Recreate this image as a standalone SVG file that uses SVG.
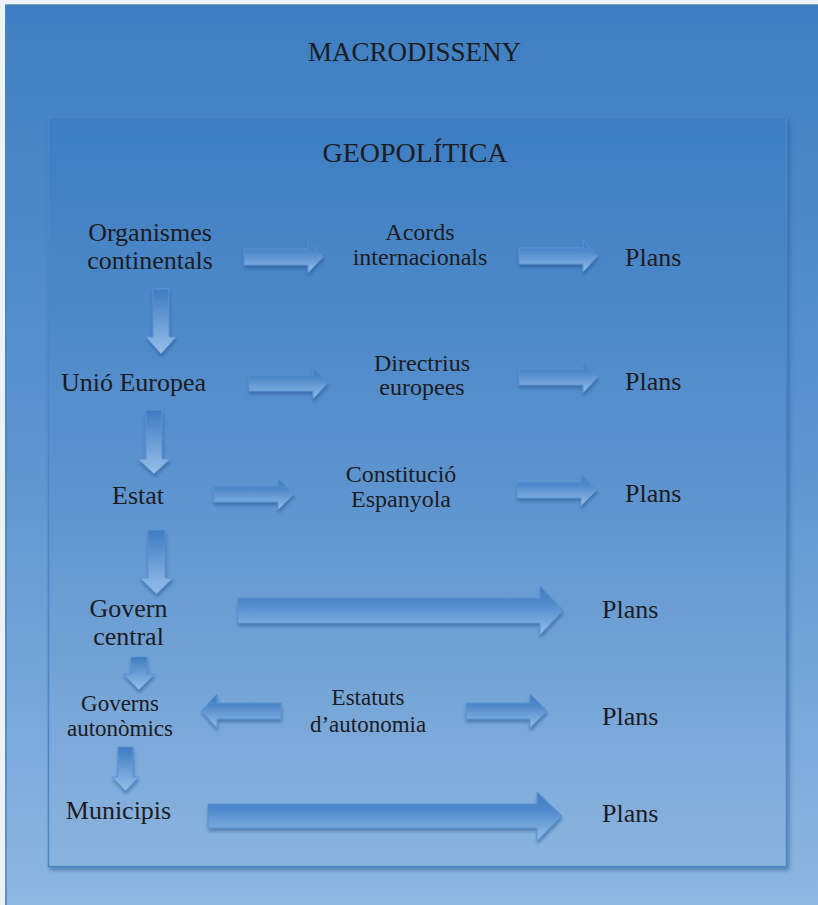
<svg xmlns="http://www.w3.org/2000/svg" width="818" height="905" viewBox="0 0 818 905">
  <defs>
    <linearGradient id="bgOuter" x1="0" y1="0" x2="0" y2="1">
      <stop offset="0" stop-color="#3d7ec2"/>
      <stop offset="0.5" stop-color="#5d95d0"/>
      <stop offset="1" stop-color="#8eb7e2"/>
    </linearGradient>
    <linearGradient id="bgInner" x1="0" y1="0" x2="0" y2="1">
      <stop offset="0" stop-color="#3c7dc2"/>
      <stop offset="0.5" stop-color="#5d94cf"/>
      <stop offset="1" stop-color="#8bb4df"/>
    </linearGradient>
    <linearGradient id="arrH" x1="0" y1="0" x2="0" y2="1">
      <stop offset="0" stop-color="#3f7bc2"/>
      <stop offset="0.35" stop-color="#4f89cb"/>
      <stop offset="1" stop-color="#95bfe9"/>
    </linearGradient>
    <linearGradient id="arrV" x1="0" y1="0" x2="0" y2="1">
      <stop offset="0" stop-color="#3f7bc2"/>
      <stop offset="1" stop-color="#95bfe9"/>
    </linearGradient>
    <filter id="shadow" x="-20%" y="-30%" width="140%" height="170%">
      <feDropShadow dx="0.5" dy="3" stdDeviation="1.5" flood-color="#1d4a85" flood-opacity="0.45"/>
    </filter>
    <filter id="boxShadow" x="-5%" y="-5%" width="110%" height="110%">
      <feDropShadow dx="2" dy="3" stdDeviation="2" flood-color="#24538f" flood-opacity="0.55"/>
    </filter>
  </defs>
  <style>
    text { font-family: "Liberation Serif", "Times New Roman", serif; fill: #1c1c22; }
    .title { font-size: 27px; text-anchor: middle; }
    .main { font-size: 26px; text-anchor: middle; }
    .mid { font-size: 24px; text-anchor: middle; }
    .small { font-size: 23px; text-anchor: middle; }
    .plans { font-size: 26px; }
    .h { fill: url(#arrH); stroke: #5a92cf; stroke-width: 1; filter: url(#shadow); }
    .v { fill: url(#arrV); stroke: #5a92cf; stroke-width: 1; filter: url(#shadow); }
  </style>

  <rect x="0" y="0" width="818" height="905" fill="#eef1f5"/>
  <rect x="5" y="4" width="813" height="901" fill="url(#bgOuter)"/>
  <line x1="6" y1="4" x2="6" y2="905" stroke="#4a84c4" stroke-width="1.5"/>
  <line x1="5" y1="4.5" x2="818" y2="4.5" stroke="#7f9ec4" stroke-width="1"/>

  <g id="macrodisseny">
    <text class="title" x="414.5" y="61">MACRODISSENY</text>
  </g>

  <g id="geopolitica">
    <rect x="48.5" y="117.5" width="738" height="749" fill="url(#bgInner)" stroke="#4d86c6" stroke-width="1.5" filter="url(#boxShadow)"/>
    <text class="title" x="415" y="162" style="font-size:28px">GEOPOLÍTICA</text>
  </g>

  <g id="connectors">
    <path class="h" d="M244,249 H308 V241 L323,257 L308,273 V265 H244 Z"/>
    <path class="h" d="M519,248 H583 V240 L598,256 L583,272 V264 H519 Z"/>
    <path class="v" d="M153,289 H169 V337 H176 L161,354 L146,337 H153 Z"/>
    <path class="h" d="M249,375 H313 V367 L328,383 L313,399 V391 H249 Z"/>
    <path class="h" d="M519,369 H583 V361 L598,377 L583,393 V385 H519 Z"/>
    <path class="v" d="M146,410 H162 V459 H170 L154,474 L138,459 H146 Z"/>
    <path class="h" d="M214,486 H278 V478 L294,494 L278,510 V502 H214 Z"/>
    <path class="h" d="M517,482 H581 V474 L597,490 L581,506 V498 H517 Z"/>
    <path class="v" d="M148,530 H165 V578 H173 L156.5,594 L140,578 H148 Z"/>
    <path class="h" d="M238,598 H540 V586 L563,610.5 L540,635 V623 H238 Z"/>
    <path class="v" d="M131,657 H147 V674 H155 L139,690 L123,674 H131 Z"/>
    <path class="h" d="M281,703 H217 V694 L201,711 L217,728 V719 H281 Z"/>
    <path class="h" d="M466,703 H530 V694 L547,711 L530,728 V719 H466 Z"/>
    <path class="v" d="M118,747 H133 V777 H139 L125.5,791 L112,777 H118 Z"/>
    <path class="h" d="M208,804 H537 V792 L562,816 L537,841 V828 H208 Z"/>
  </g>

  <g id="organismes-continentals">
    <text class="main" x="150" y="241">Organismes</text>
    <text class="main" x="150" y="269">continentals</text>
  </g>
  <g id="acords-internacionals">
    <text class="mid" x="420" y="240">Acords</text>
    <text class="mid" x="420" y="265">internacionals</text>
  </g>
  <g id="plans-1"><text class="plans" x="625" y="266">Plans</text></g>

  <g id="unio-europea">
    <text class="main" x="133.5" y="391">Unió Europea</text>
  </g>
  <g id="directrius-europees">
    <text class="mid" x="422" y="371">Directrius</text>
    <text class="mid" x="422" y="395">europees</text>
  </g>
  <g id="plans-2"><text class="plans" x="625" y="390">Plans</text></g>

  <g id="estat">
    <text class="main" x="138" y="504">Estat</text>
  </g>
  <g id="constitucio-espanyola">
    <text class="mid" x="401" y="482">Constitució</text>
    <text class="mid" x="401" y="507">Espanyola</text>
  </g>
  <g id="plans-3"><text class="plans" x="625" y="502">Plans</text></g>

  <g id="govern-central">
    <text class="main" x="128.5" y="617">Govern</text>
    <text class="main" x="128.5" y="645">central</text>
  </g>
  <g id="plans-4"><text class="plans" x="602" y="618">Plans</text></g>

  <g id="governs-autonomics">
    <text class="small" x="120" y="711">Governs</text>
    <text class="small" x="120" y="736">autonòmics</text>
  </g>
  <g id="estatuts-autonomia">
    <text class="small" x="368" y="705">Estatuts</text>
    <text class="small" x="368" y="732">d’autonomia</text>
  </g>
  <g id="plans-5"><text class="plans" x="602" y="725">Plans</text></g>

  <g id="municipis">
    <text class="main" x="118.5" y="819">Municipis</text>
  </g>
  <g id="plans-6"><text class="plans" x="602" y="822">Plans</text></g>
</svg>
